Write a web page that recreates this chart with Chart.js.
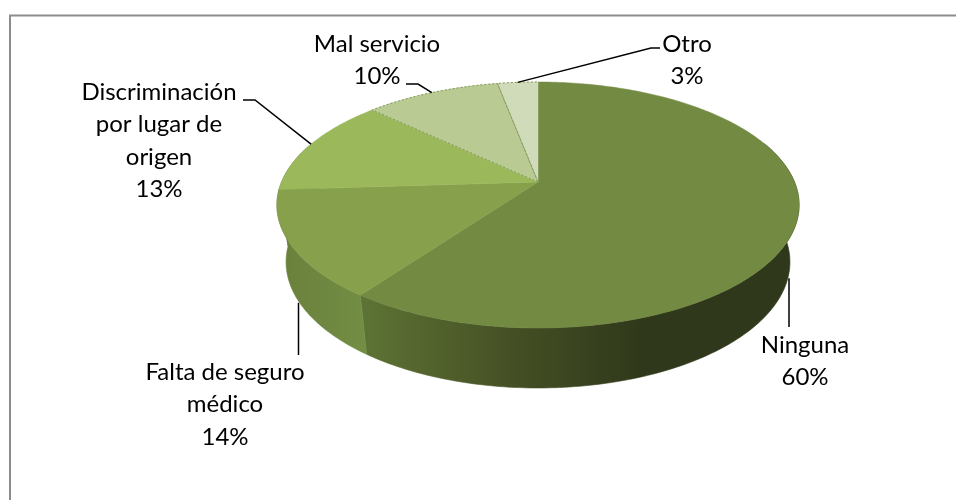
<!DOCTYPE html>
<html><head><meta charset="utf-8">
<style>html,body{margin:0;padding:0;background:#fff}canvas{display:block}</style>
<script src="https://cdn.jsdelivr.net/npm/chart.js@4"></script>
</head><body><canvas id="c" width="956" height="500"></canvas>
<script>
const categories=['Ninguna','Falta de seguro médico','Discriminación por lugar de origen','Mal servicio','Otro'];
const values=[60,14,13,10,3];
const topColors=['#728a41','#86a04c','#9bb95a','#b9cb92','#d0dbba'];
const labelLines=[['Ninguna'],['Falta de seguro','médico'],['Discriminación','por lugar de','origen'],['Mal servicio'],['Otro']];

const K=0.187;
const TOP={cx:538,cy:182,A:256.5,B:118.7};
const BOT={cx:538,cy:238.4,A:247.5,B:121.6};
function proj(m,a){const x=Math.cos(a),y=Math.sin(a),w=1-K*y;return [m.cx+m.A*x/w,m.cy+m.B*y/w];}

const labelBoxes=[
 {cx:805,base:353,lead:[[789,327]],wall:true},
 {cx:225,base:380,lead:[[298.5,355]],wall:true},
 {cx:159,base:100,lead:[[243,100],[255,100]]},
 {cx:377,base:52,lead:[[406,84],[418,84]]},
 {cx:687,base:52,lead:[[660,48],[651,48]]}
];
const lineH=32.3;

function rimPath(ctx,m,a0,a1,rev){
  const n=Math.max(4,Math.ceil(Math.abs(a1-a0)*60));
  for(let i=0;i<=n;i++){const t=rev?a1+(a0-a1)*i/n:a0+(a1-a0)*i/n;const p=proj(m,t);ctx.lineTo(p[0],p[1]);}
}
const pie3d={id:'pie3d',
 beforeDatasetDraw(chart){
  const ctx=chart.ctx,arcs=chart.getDatasetMeta(0).data;
  ctx.save();
  // frame: left and top edges only
  ctx.strokeStyle='#8c8c8c';ctx.lineWidth=2;
  ctx.beginPath();ctx.moveTo(10,500);ctx.lineTo(10,15.5);ctx.lineTo(956,15.5);ctx.stroke();
  // walls: only the near half of the rim shows
  const near0=-0.35,near1=Math.PI+0.35;
  arcs.forEach((arc,i)=>{
    const s=Math.max(arc.startAngle,near0),e=Math.min(arc.endAngle,near1);
    const s2=Math.max(arc.startAngle-2*Math.PI,near0),e2=Math.min(arc.endAngle-2*Math.PI,near1);
    const draw=(a,b)=>{ if(b<=a)return;
      const g=ctx.createLinearGradient(280,0,800,0);
      if(i===0){g.addColorStop(0,'#6a8039');g.addColorStop(0.16,'#5d7334');g.addColorStop(0.45,'#454f24');g.addColorStop(0.7,'#2f381a');g.addColorStop(1,'#2f381a');}
      else{g.addColorStop(0,'#69803b');g.addColorStop(0.17,'#748e45');g.addColorStop(1,'#748e45');}
      ctx.fillStyle=g;ctx.strokeStyle=g;ctx.lineWidth=0.6;
      ctx.beginPath();const p=proj(TOP,a);ctx.moveTo(p[0],p[1]);
      rimPath(ctx,TOP,a,b);rimPath(ctx,BOT,a,b,true);ctx.closePath();ctx.fill();ctx.stroke();
    };
    draw(s,e);draw(s2,e2);
  });
  // top faces, projected from the arc angles the library computed
  arcs.forEach((arc,i)=>{
    ctx.fillStyle=topColors[i];
    ctx.beginPath();ctx.moveTo(TOP.cx,TOP.cy);
    rimPath(ctx,TOP,arc.startAngle,arc.endAngle);ctx.closePath();ctx.fill();
    ctx.strokeStyle=topColors[i];ctx.lineWidth=0.5;ctx.stroke();
  });
  // dotted edges on the pale far slices
  ctx.strokeStyle='#7f9455';ctx.lineWidth=1;ctx.setLineDash([2,2]);
  [3,4].forEach(i=>{const arc=arcs[i];
    ctx.beginPath();ctx.moveTo(TOP.cx,TOP.cy);
    rimPath(ctx,TOP,arc.startAngle,arc.endAngle);if(i===3)ctx.closePath();ctx.stroke();});
  ctx.setLineDash([]);
  // leaders and labels
  ctx.strokeStyle='#000';ctx.lineWidth=1.5;ctx.fillStyle='#000';
  ctx.font='24px Lato, "Open Sans", sans-serif';ctx.textAlign='center';ctx.textBaseline='alphabetic';
  arcs.forEach((arc,i)=>{
    const b=labelBoxes[i],mid=(arc.startAngle+arc.endAngle)/2,p=proj(b.wall?BOT:TOP,mid);
    ctx.beginPath();
    if(b.wall){ctx.moveTo(b.lead[0][0],p[1]);ctx.lineTo(b.lead[0][0],b.lead[0][1]);}
    else{ctx.moveTo(b.lead[0][0],b.lead[0][1]);ctx.lineTo(b.lead[1][0],b.lead[1][1]);ctx.lineTo(p[0],p[1]);}
    ctx.stroke();
    const lines=labelLines[i].concat([Math.round(values[i])+'%']);
    lines.forEach((t,j)=>ctx.fillText(t,b.cx,b.base+j*lineH));
  });
  ctx.restore();
  return false;
 }
};
new Chart(document.getElementById('c'),{
 type:'pie',
 data:{labels:categories,datasets:[{data:values,backgroundColor:topColors,borderWidth:0}]},
 options:{responsive:false,animation:false,rotation:0,
  plugins:{legend:{display:false},tooltip:{enabled:false}}},
 plugins:[pie3d]
});
</script></body></html>
